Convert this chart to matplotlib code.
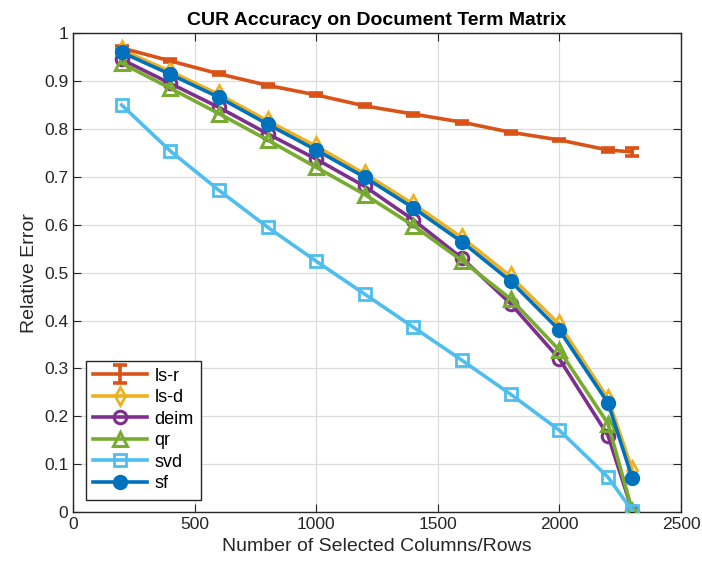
import matplotlib.pyplot as plt
import numpy as np

plt.rcParams['font.family'] = ['Liberation Sans', 'DejaVu Sans']

cols = [200, 400, 600, 800, 1000, 1200, 1400, 1600, 1800, 2000, 2200, 2300]

ls_r = [0.969, 0.942, 0.915, 0.891, 0.871, 0.848, 0.831, 0.814, 0.793, 0.777, 0.756, 0.752]
ls_r_err = [0.004, 0.003, 0.003, 0.003, 0.003, 0.003, 0.003, 0.003, 0.003, 0.003, 0.004, 0.009]
ls_d = [0.965, 0.920, 0.872, 0.817, 0.764, 0.706, 0.643, 0.573, 0.492, 0.392, 0.237, 0.088]
deim = [0.945, 0.895, 0.845, 0.790, 0.737, 0.680, 0.610, 0.530, 0.435, 0.320, 0.160, 0.003]
qr = [0.937, 0.885, 0.832, 0.777, 0.720, 0.663, 0.598, 0.525, 0.445, 0.338, 0.185, 0.003]
svd = [0.850, 0.754, 0.672, 0.595, 0.524, 0.455, 0.386, 0.317, 0.246, 0.171, 0.073, 0.003]
sf = [0.960, 0.914, 0.866, 0.810, 0.756, 0.699, 0.635, 0.564, 0.482, 0.380, 0.228, 0.071]

c_lsr = (0.85, 0.325, 0.098)
c_lsd = (0.929, 0.694, 0.125)
c_deim = (0.494, 0.184, 0.556)
c_qr = (0.466, 0.674, 0.188)
c_svd = (0.301, 0.745, 0.933)
c_sf = (0.0, 0.447, 0.741)

fig = plt.figure(figsize=(7.02, 5.71), dpi=100)
ax = fig.add_axes([0.104, 0.103, 0.866, 0.839])

lw = 2.6
h = []
h.append(ax.errorbar(cols, ls_r, yerr=ls_r_err, color=c_lsr, lw=lw, capsize=5, capthick=lw,
                     elinewidth=lw, label='ls-r', zorder=3))
h += ax.plot(cols, ls_d, color=c_lsd, lw=lw, marker='d', ms=9, mfc='none', mew=2,
             label='ls-d', zorder=3)
h += ax.plot(cols, deim, color=c_deim, lw=lw, marker='o', ms=9, mfc='none', mew=2.2,
             label='deim', zorder=3)
h += ax.plot(cols, qr, color=c_qr, lw=lw, marker='^', ms=10, mfc='none', mew=2.2,
             label='qr', zorder=3)
h += ax.plot(cols, svd, color=c_svd, lw=lw, marker='s', ms=8, mfc='none', mew=2,
             label='svd', zorder=3)
h += ax.plot(cols, sf, color=c_sf, lw=lw, marker='o', ms=10, mfc=c_sf, mew=1,
             label='sf', zorder=4)

ax.set_xlim(0, 2500)
ax.set_ylim(0, 1)
ax.set_xticks(np.arange(0, 2501, 500))
ax.set_yticks(np.arange(0, 1.01, 0.1))
ax.set_yticklabels(['0', '0.1', '0.2', '0.3', '0.4', '0.5', '0.6', '0.7', '0.8', '0.9', '1'])
ax.grid(True, color='#dcdcdc', lw=0.9)
ax.set_axisbelow(True)
ax.tick_params(direction='in', top=True, right=True, labelsize=12.5, length=6,
               color='#262626', labelcolor='#262626')
for s in ax.spines.values():
    s.set_color('#262626')
    s.set_linewidth(1.0)

ax.set_xlabel('Number of Selected Columns/Rows', fontsize=14, color='#262626')
ax.set_ylabel('Relative Error', fontsize=14, color='#262626')
ax.set_title('CUR Accuracy on Document Term Matrix', fontsize=14, fontweight='bold', pad=6)

leg = ax.legend(h, [x.get_label() for x in h], loc='lower left', fontsize=13,
                fancybox=False, edgecolor='#262626', handlelength=3.0,
                borderaxespad=0.7, labelspacing=0.25, handletextpad=0.4, framealpha=1)
leg.get_frame().set_linewidth(1.0)

plt.savefig('out.png', dpi=100)
